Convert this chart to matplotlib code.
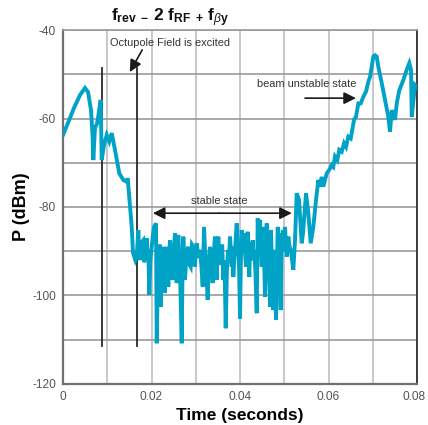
import matplotlib
matplotlib.use("Agg")
import matplotlib.pyplot as plt
import matplotlib.transforms as mtransforms
from matplotlib.ticker import MultipleLocator

# Time axis in milliseconds, power in dBm
time_ms = [
    0.00, 1.13, 2.49, 3.84, 4.97, 5.65, 6.33, 6.67, 6.85, 7.23, 7.68, 7.91, 8.52, 8.75,
    9.27, 9.88, 10.46, 11.01, 11.75, 12.72, 13.63, 14.40, 14.62, 15.03, 15.53, 15.82,
    16.05, 16.35, 16.66, 17.02, 17.20, 17.40, 17.75, 18.15, 18.35, 18.53, 18.92, 19.10,
    19.28, 19.50, 19.75, 20.05, 20.30, 20.57, 21.02, 21.18, 21.45, 21.70, 21.90, 22.08,
    22.35, 22.67, 22.85, 23.05, 23.25, 23.44, 23.62, 23.80, 24.00, 24.18, 24.50, 24.79,
    25.05, 25.31, 25.50, 25.70, 25.88, 26.06, 26.45, 26.83, 27.00, 27.19, 27.38, 27.57,
    27.95, 28.32, 28.60, 28.86, 29.15, 29.45, 29.65, 29.83, 30.02, 30.22, 30.60, 30.96,
    31.25, 31.57, 31.87, 32.10, 32.32, 32.70, 32.95, 33.22, 33.50, 33.83, 34.10, 34.35,
    34.55, 34.74, 34.92, 35.10, 35.40, 35.71, 35.97, 36.23, 36.50, 36.77, 37.05, 37.29,
    37.50, 37.74, 37.95, 38.13, 38.30, 38.49, 38.70, 38.87, 39.26, 39.45, 39.62, 39.80,
    40.00, 40.20, 40.39, 40.70, 40.97, 41.15, 41.36, 41.55, 41.74, 41.90, 42.10, 42.30,
    42.49, 42.87, 43.05, 43.23, 43.50, 43.78, 44.00, 44.25, 44.52, 44.70, 44.91, 45.10,
    45.27, 45.45, 45.65, 45.85, 46.04, 46.20, 46.40, 46.60, 46.78, 47.00, 47.25, 47.53,
    47.70, 47.91, 48.14, 48.35, 48.52, 48.82, 49.00, 49.20, 49.43, 49.60, 49.79, 50.00,
    50.17, 50.35, 50.56, 50.92, 51.20, 51.46, 51.75, 52.05, 52.43,
    52.82, 53.34, 53.95, 54.24, 54.92, 55.44, 55.98, 56.57, 57.18, 57.70, 58.08, 58.47,
    58.83, 59.21, 59.60, 60.18, 60.73, 61.09, 61.47, 61.99, 62.44, 62.99, 63.51, 63.96,
    64.48, 65.02, 65.47, 65.77, 66.22, 66.74, 67.28, 67.87, 68.48, 69.00, 69.38, 69.77,
    70.13, 70.51, 70.90, 71.26, 72.03, 72.77, 73.52, 73.90, 74.29, 74.65, 75.03, 75.42,
    76.00, 76.91, 77.68, 78.26, 78.65, 78.81, 79.55, 79.93,
]
power_dbm = [
    -63.7, -61.0, -57.6, -54.7, -53.1, -54.0, -58.1, -63.7, -69.4, -62.1, -61.2, -59.9, -55.8, -69.4,
    -66.0, -63.7, -65.2, -63.3, -67.1, -72.4, -73.9, -74.3, -73.5, -78.4, -84.5, -90.4,
    -91.0, -92.0, -91.2, -85.2, -90.5, -92.0, -88.0, -87.5, -92.5, -91.2, -87.1, -90.5,
    -89.7, -99.9, -92.0, -89.0, -86.5, -84.5, -83.7, -110.8, -95.0, -92.7, -88.5, -102.5,
    -93.0, -89.0, -95.0, -99.4, -92.0, -89.0, -93.0, -98.0, -91.0, -87.5, -91.5, -96.5,
    -89.5, -85.9, -92.0, -97.2, -90.0, -86.3, -95.0, -110.8, -95.0, -86.7, -91.5, -96.5,
    -90.0, -89.0, -93.0, -93.5, -88.5, -89.0, -92.0, -93.5, -89.5, -88.2, -91.5, -89.7,
    -93.0, -98.0, -84.5, -90.0, -93.5, -101.0, -92.0, -89.0, -92.5, -97.2, -90.0, -86.7,
    -91.0, -96.5, -90.5, -86.7, -93.0, -91.2, -88.5, -96.5, -92.0, -107.4, -94.0, -89.7,
    -92.5, -86.7, -90.0, -93.5, -89.0, -95.8, -92.0, -89.7, -83.7, -88.5, -89.7, -94.0,
    -105.2, -92.0, -85.2, -89.5, -85.9, -90.5, -93.5, -89.0, -85.6, -90.0, -95.8, -88.0,
    -92.0, -87.5, -92.0, -89.7, -95.0, -104.0, -82.6, -88.0, -82.9, -89.0, -93.5, -88.0,
    -84.5, -92.0, -100.3, -90.0, -83.7, -89.0, -92.7, -96.0, -102.5, -85.2, -94.0, -103.3,
    -94.0, -89.7, -105.5, -93.0, -84.5, -86.7, -94.0, -103.3, -85.9, -90.0, -85.2, -89.0,
    -84.5, -88.0, -91.2, -86.7, -89.0, -89.7, -92.0, -94.2, -87.5,
    -76.9, -78.4, -88.2, -85.9, -76.9, -81.4, -88.2, -84.5, -78.4, -73.9, -75.4, -73.2,
    -75.4, -73.9, -72.4, -71.6, -70.5, -70.9, -68.6, -69.4, -67.1, -67.5, -65.6, -66.4,
    -64.1, -64.5, -61.9, -60.3, -59.6, -56.6, -56.6, -55.1, -53.9, -51.7, -50.6, -48.3,
    -46.0, -45.7, -46.0, -48.3, -52.0, -55.8, -59.6, -63.0, -58.1, -59.2, -60.3, -56.6,
    -53.6, -51.3, -49.0, -47.5, -49.0, -59.6, -52.4, -52.8,
]
time_s = [t / 1000.0 for t in time_ms]

# Marker lines (time in seconds, extent in dBm)
marker_times = [0.00875, 0.01666]
marker_span = (-111.4, -48.6)

xtick_vals = [0, 0.02, 0.04, 0.06, 0.08]
xtick_text = ["0", "0.02", "0.04", "0.06", "0.08"]
ytick_vals = [-120, -100, -80, -60, -40]

sans = ["Liberation Sans", "DejaVu Sans"]
plt.rcParams["mathtext.fontset"] = "custom"
plt.rcParams["mathtext.rm"] = "Liberation Sans"
plt.rcParams["mathtext.bf"] = "Liberation Sans:bold"
plt.rcParams["mathtext.it"] = "Liberation Sans:italic"

fig = plt.figure(figsize=(4.28, 4.25), dpi=100)
ax = fig.add_axes([0.1472, 0.0965, 0.8271, 0.8329])

ax.set_xlim(0, 0.08)
ax.set_ylim(-120, -40)
ax.xaxis.set_minor_locator(MultipleLocator(0.01))
ax.yaxis.set_minor_locator(MultipleLocator(10))

ax.grid(True, which="both", axis="x", color="#c4c4c8", lw=1.3)
ax.grid(True, which="both", axis="y", color="#9a9a9a", lw=1.2)
ax.set_axisbelow(True)

for s in ("left", "bottom"):
    ax.spines[s].set_color("#707070")
    ax.spines[s].set_linewidth(1.6)
ax.spines["right"].set_color("#222222")
ax.spines["right"].set_linewidth(1.2)
ax.spines["top"].set_color("#9a9a9a")
ax.spines["top"].set_linewidth(1.2)

ax.tick_params(which="both", length=0)
ax.tick_params(axis="x", pad=5)
ax.tick_params(axis="y", pad=5)
ax.set_xticks(xtick_vals)
ax.set_xticklabels(xtick_text, family=sans, fontsize=8.6, color="#555555")
ax.set_yticks(ytick_vals)
ax.set_yticklabels([str(v) for v in ytick_vals], family=sans, fontsize=8.6,
                   color="#555555")
last = ax.get_xticklabels()[-1]
last.set_transform(last.get_transform() +
                   mtransforms.ScaledTranslation(-3 / 100, 0, fig.dpi_scale_trans))

for t in marker_times:
    ax.plot([t, t], marker_span, color="#2a2a2a", lw=1.3, zorder=3)

ax.plot(time_s, power_dbm, color="#00a2c6", lw=2.8, solid_joinstyle="miter", zorder=4)

arrow_kw = dict(arrowstyle="-|>", color="#1a1a1a", lw=1.2, mutation_scale=18,
                shrinkA=0, shrinkB=0)
note_kw = dict(ha="center", va="center", fontsize=7.9, family=sans, color="#333333")

ax.text(0.0242, -42.9, "Octupole Field is excited", **note_kw)
ax.annotate("", xy=(0.0151, -49.5), xytext=(0.0179, -44.5), arrowprops=arrow_kw)

ax.text(0.0551, -52.2, "beam unstable state", **note_kw)
ax.annotate("", xy=(0.0662, -55.4), xytext=(0.0547, -55.4), arrowprops=arrow_kw)

ax.text(0.0353, -78.6, "stable state", **note_kw)
ax.annotate("", xy=(0.0203, -81.4), xytext=(0.0353, -81.4), arrowprops=arrow_kw)
ax.annotate("", xy=(0.0517, -81.4), xytext=(0.0353, -81.4), arrowprops=arrow_kw)

fig.text(0.397, 0.958,
         r"$\mathbf{f}_{\mathbf{rev}}\ \mathbf{_{-}}\ \mathbf{2\ f}_{\mathbf{RF}}\ _{\mathbf{+}}\ \mathbf{f}_{\beta \mathbf{y}}$",
         ha="center", va="center", fontsize=12.5, color="#111111")

ax.set_xlabel("Time (seconds)", fontsize=12.5, fontweight="heavy", family=sans, labelpad=4)
ax.set_ylabel("P (dBm)", fontsize=13, fontweight="heavy", family=sans, labelpad=2)

fig.savefig("out.png", dpi=100)
